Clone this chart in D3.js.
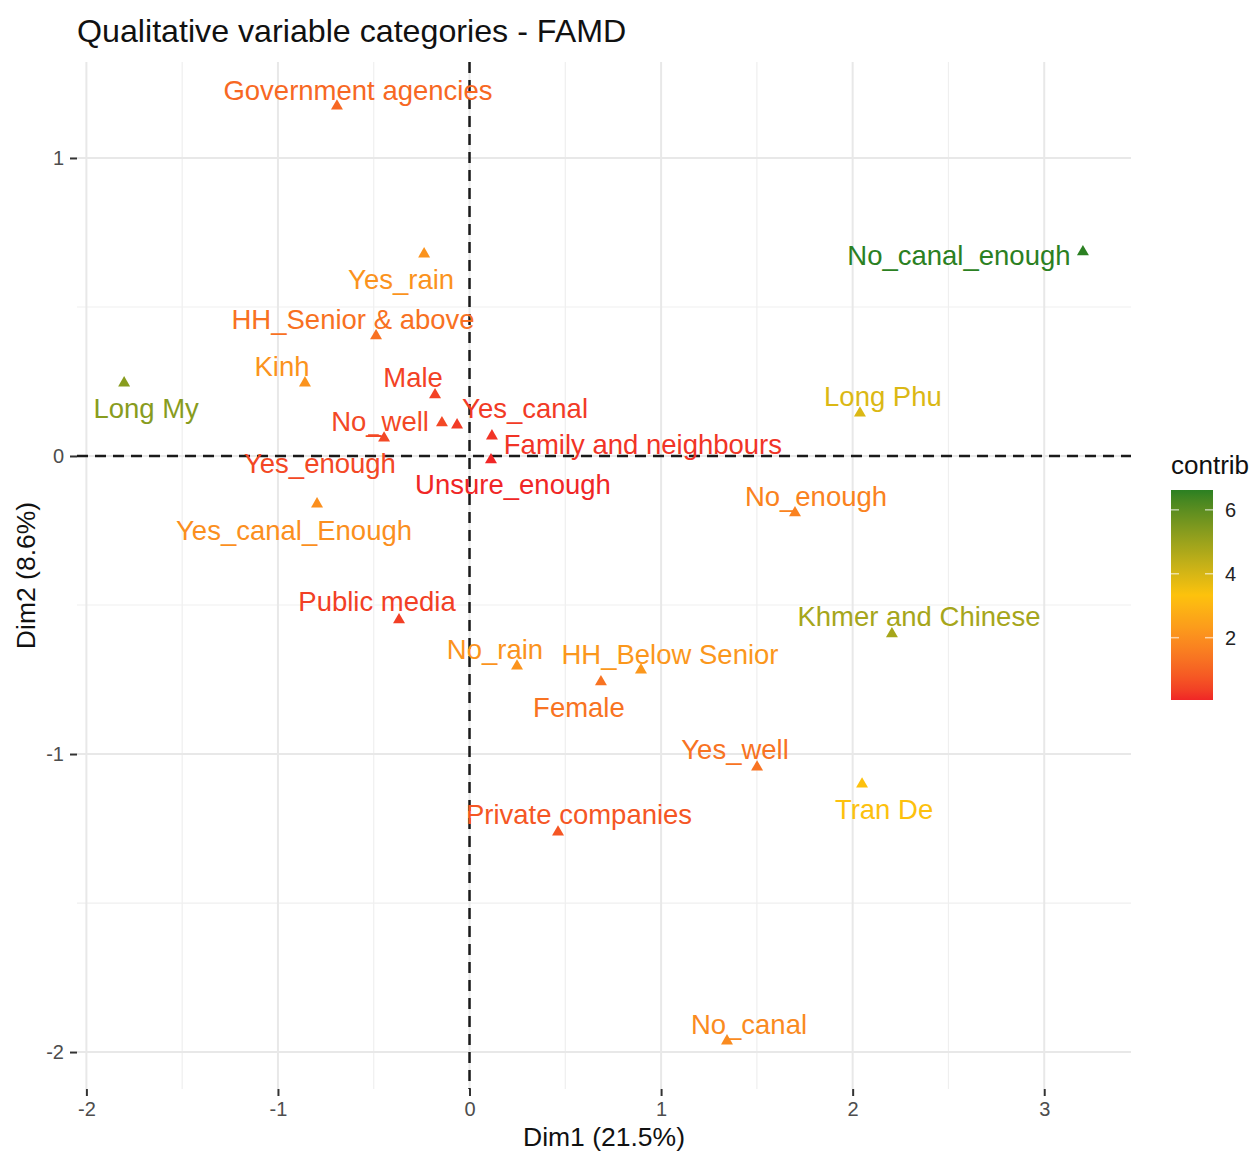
<!DOCTYPE html>
<html>
<head>
<meta charset="utf-8">
<script src="https://cdn.jsdelivr.net/npm/d3@7"></script>
<style>
  html, body { margin: 0; padding: 0; background: #ffffff; }
  svg { display: block; font-family: "Liberation Sans", Arial, Helvetica, sans-serif; }
</style>
</head>
<body>
<svg id="chart" width="1253" height="1151"></svg>
<script>
// Qualitative variable categories of the FAMD, coloured by contribution
const categories = [
  "Government agencies", "Yes_rain", "HH_Senior & above", "Kinh", "Long My",
  "Male", "No_well", "Yes_enough", "Yes_canal", "Family and neighbours",
  "Unsure_enough", "Yes_canal_Enough", "Public media", "No_rain", "Female",
  "HH_Below Senior", "Yes_well", "Private companies", "No_canal", "Tran De",
  "Khmer and Chinese", "No_enough", "Long Phu", "No_canal_enough"
];
const dim1 = [
  -0.692, -0.237, -0.488, -0.859, -1.803,
  -0.180, -0.446, -0.144, -0.065, 0.117,
  0.112, -0.796, -0.368, 0.248, 0.686,
  0.895, 1.501, 0.462, 1.344, 2.049,
  2.205, 1.699, 2.038, 3.202
];
const dim2 = [
  1.174, 0.678, 0.403, 0.245, 0.245,
  0.205, 0.060, 0.111, 0.104, 0.067,
  -0.013, -0.161, -0.550, -0.705, -0.758,
  -0.718, -1.044, -1.262, -1.963, -1.101,
  -0.597, -0.191, 0.144, 0.685
];
const contrib = [
  1.1, 2.1, 1.3, 2.1, 5.3,
  0.4, 0.5, 0.5, 0.3, 0.2,
  0.05, 2.0, 0.35, 2.1, 1.35,
  2.2, 1.35, 0.75, 1.9, 3.3,
  4.8, 1.7, 3.9, 6.62
];
const xTicks = [-2, -1, 0, 1, 2, 3];
const yTicks = [-2, -1, 0, 1];
const legendTicks = [2, 4, 6];

// Label placement (pixel offsets of each label centre from its point)
const labelOffsets = {
  "Government agencies": [21, -16], "Yes_rain": [-23, 25], "HH_Senior & above": [-23, -17],
  "Kinh": [-23, -17], "Long My": [22, 25], "Male": [-22, -18], "No_well": [-4, -17],
  "Yes_enough": [-122, 40], "Yes_canal": [68, -17], "Family and neighbours": [151, 8],
  "Unsure_enough": [22, 25], "Yes_canal_Enough": [-23, 26], "Public media": [-22, -19],
  "No_rain": [-22, -17], "Female": [-22, 25], "HH_Below Senior": [29, -16],
  "Yes_well": [-22, -18], "Private companies": [21, -18], "No_canal": [22, -17],
  "Tran De": [22, 25], "Khmer and Chinese": [27, -18], "No_enough": [21, -17],
  "Long Phu": [23, -17], "No_canal_enough": [-124, 4]
};

const data = categories.map((name, i) => ({ name, x: dim1[i], y: dim2[i], c: contrib[i] }));

const svg = d3.select("#chart");
const panel = { left: 77, right: 1131, top: 62, bottom: 1089 };

const x = d3.scaleLinear().domain([-2.049, 3.453]).range([panel.left, panel.right]);
const y = d3.scaleLinear().domain([-2.124, 1.322]).range([panel.bottom, panel.top]);

const cMin = d3.min(contrib), cMax = d3.max(contrib);
const color = d3.scaleLinear()
  .domain([cMin, (cMin + cMax) / 2, cMax])
  .range(["#F02626", "#FDC20C", "#2B8022"])
  .interpolate(d3.interpolateLab);

// Grid: minor then major
const g = svg.append("g");
const xMinor = d3.range(-1.5, 3.0, 1);
const yMinor = [-1.5, -0.5, 0.5];
g.selectAll(".xminor").data(xMinor).join("line")
  .attr("x1", d => x(d)).attr("x2", d => x(d))
  .attr("y1", panel.top).attr("y2", panel.bottom)
  .attr("stroke", "#efefef").attr("stroke-width", 1.2);
g.selectAll(".yminor").data(yMinor).join("line")
  .attr("y1", d => y(d)).attr("y2", d => y(d))
  .attr("x1", panel.left).attr("x2", panel.right)
  .attr("stroke", "#efefef").attr("stroke-width", 1.2);
g.selectAll(".xmajor").data(xTicks).join("line")
  .attr("x1", d => x(d)).attr("x2", d => x(d))
  .attr("y1", panel.top).attr("y2", panel.bottom)
  .attr("stroke", "#e8e8e8").attr("stroke-width", 2);
g.selectAll(".ymajor").data(yTicks).join("line")
  .attr("y1", d => y(d)).attr("y2", d => y(d))
  .attr("x1", panel.left).attr("x2", panel.right)
  .attr("stroke", "#e8e8e8").attr("stroke-width", 2);

// Axes (ticks and labels only)
const xAxis = svg.append("g")
  .attr("transform", `translate(0,${panel.bottom})`)
  .call(d3.axisBottom(x).tickValues(xTicks).tickSize(7).tickPadding(6).tickFormat(d3.format("d")));
const yAxis = svg.append("g")
  .attr("transform", `translate(${panel.left},0)`)
  .call(d3.axisLeft(y).tickValues(yTicks).tickSize(7).tickPadding(6).tickFormat(d3.format("d")));
[xAxis, yAxis].forEach(a => {
  a.select(".domain").remove();
  a.selectAll(".tick line").attr("stroke", "#333333").attr("stroke-width", 2);
  a.selectAll(".tick text")
    .attr("fill", "#4d4d4d")
    .style("font-size", "20px")
    .style("font-family", "'Liberation Sans', Arial, sans-serif");
});
yAxis.selectAll(".tick text").text(d => d < 0 ? "-" + Math.abs(d) : d);
xAxis.selectAll(".tick text").text(d => d < 0 ? "-" + Math.abs(d) : d);

// Zero reference lines
svg.append("line")
  .attr("x1", panel.left).attr("x2", panel.right)
  .attr("y1", y(0)).attr("y2", y(0))
  .attr("stroke", "#1a1a1a").attr("stroke-width", 2.5).attr("stroke-dasharray", "11,7");
svg.append("line")
  .attr("x1", x(0)).attr("x2", x(0))
  .attr("y1", panel.top).attr("y2", panel.bottom)
  .attr("stroke", "#1a1a1a").attr("stroke-width", 2.5).attr("stroke-dasharray", "11,7");

// Connector for a displaced label
const nw = data.find(d => d.name === "No_well");
svg.append("polyline")
  .attr("points", `${x(nw.x) - 16},${y(nw.y) - 3} ${x(nw.x) - 6},${y(nw.y) - 3} ${x(nw.x)},${y(nw.y)}`)
  .attr("fill", "none").attr("stroke", color(nw.c)).attr("stroke-width", 1.6);

// Points
const tri = d3.symbol().type(d3.symbolTriangle).size(62);
svg.append("g").selectAll("path").data(data).join("path")
  .attr("d", tri)
  .attr("transform", d => `translate(${x(d.x)},${y(d.y)})`)
  .attr("fill", d => color(d.c));

// Labels
svg.append("g").selectAll("text").data(data).join("text")
  .attr("x", d => x(d.x) + labelOffsets[d.name][0])
  .attr("y", d => y(d.y) + labelOffsets[d.name][1])
  .attr("dy", "0.35em")
  .attr("text-anchor", "middle")
  .attr("fill", d => color(d.c))
  .style("font-size", "27.5px")
  .text(d => d.name);

// Title and axis titles
svg.append("text")
  .attr("x", panel.left).attr("y", 42)
  .attr("fill", "#111").style("font-size", "32.2px")
  .text("Qualitative variable categories - FAMD");
svg.append("text")
  .attr("x", (panel.left + panel.right) / 2).attr("y", 1146)
  .attr("text-anchor", "middle").attr("fill", "#111").style("font-size", "26.5px")
  .text("Dim1 (21.5%)");
svg.append("text")
  .attr("transform", `translate(35,${(panel.top + panel.bottom) / 2}) rotate(-90)`)
  .attr("text-anchor", "middle").attr("fill", "#111").style("font-size", "26.5px")
  .text("Dim2 (8.6%)");

// Colour bar legend
const leg = { x: 1171, w: 42, top: 490, bottom: 700 };
const ly = d3.scaleLinear().domain([cMin, cMax]).range([leg.bottom, leg.top]);
const defs = svg.append("defs");
const grad = defs.append("linearGradient").attr("id", "contribGrad")
  .attr("x1", 0).attr("x2", 0).attr("y1", 1).attr("y2", 0);
d3.range(0, 1.0001, 0.05).forEach(t => {
  grad.append("stop").attr("offset", t).attr("stop-color", color(cMin + t * (cMax - cMin)));
});
svg.append("rect")
  .attr("x", leg.x).attr("y", leg.top).attr("width", leg.w).attr("height", leg.bottom - leg.top)
  .attr("fill", "url(#contribGrad)");
const lt = svg.append("g").selectAll("g").data(legendTicks).join("g");
lt.append("line")
  .attr("x1", leg.x).attr("x2", leg.x + 8)
  .attr("y1", d => ly(d)).attr("y2", d => ly(d))
  .attr("stroke", "#ffffff").attr("stroke-opacity", 0.6).attr("stroke-width", 1.5);
lt.append("line")
  .attr("x1", leg.x + leg.w - 8).attr("x2", leg.x + leg.w)
  .attr("y1", d => ly(d)).attr("y2", d => ly(d))
  .attr("stroke", "#ffffff").attr("stroke-opacity", 0.6).attr("stroke-width", 1.5);
lt.append("text")
  .attr("x", leg.x + leg.w + 12).attr("y", d => ly(d)).attr("dy", "0.35em")
  .attr("fill", "#222").style("font-size", "20px")
  .text(d => d);
svg.append("text")
  .attr("x", 1171).attr("y", 474)
  .attr("fill", "#111").style("font-size", "26px")
  .text("contrib");
</script>
</body>
</html>
